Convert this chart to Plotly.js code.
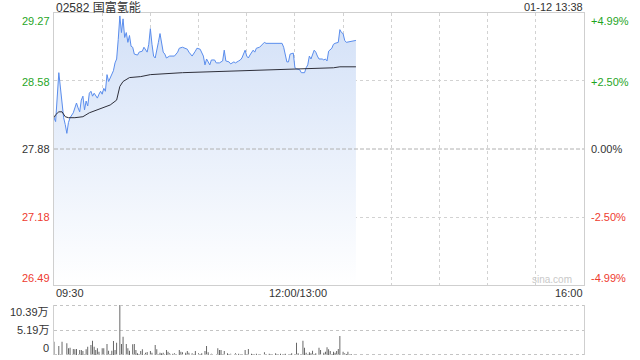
<!DOCTYPE html>
<html><head><meta charset="utf-8">
<script src="https://cdn.plot.ly/plotly-3.0.1.min.js"></script>
<style>html,body{margin:0;padding:0;background:#fff}#c{width:640px;height:360px}</style>
</head><body><div id="c"></div><script>
// ---- data ----
const stockTitle = "02582 国富氢能";
const stampText = "01-12 13:38";
const prevClose = 27.88;
const priceTicks = [29.27, 28.58, 27.88, 27.18, 26.49];
const pctTicks = ["+4.99%", "+2.50%", "0.00%", "-2.50%", "-4.99%"];
const timeLabels = ["09:30", "12:00/13:00", "16:00"];
const volTickLabels = ["10.39万", "5.19万", "0"];
const volMax = 103900;

// minutes of trading since 09:30 (12:00 and 13:00 share minute 150)
const priceMin = [0,1,3,5,6,7,8,9,10,12,14,15,16,17,18,19,20,21,22,23,24,25,27,28,29,30,31,32,33,34,35,37,38,39,40,41,42,43,44,45,46,47,48,49,50,52,53,55,56,57,58,59,60,61,62,63,64,65,66,67,68,69,70,72,73,75,77,78,80,83,84,86,88,89,91,93,94,95,97,98,100,101,103,105,106,107,109,110,112,113,115,116,117,119,120,121,122,124,125,126,128,130,131,132,139,142,143,144,145,146,147,149,150,151,153,154,156,157,158,159,160,162,163,164,165,167,168,169,170,171,173,174,175,177,178,179,180,181,182,188];
const priceVal = [28.20,28.16,28.66,28.33,28.20,28.13,28.04,28.15,28.20,28.25,28.35,28.30,28.26,28.38,28.42,28.28,28.37,28.32,28.45,28.47,28.42,28.45,28.40,28.44,28.47,28.44,28.50,28.47,28.64,28.57,28.61,28.68,28.76,28.80,29.00,29.24,29.07,29.21,29.02,29.07,28.97,29.04,28.93,28.92,28.85,28.84,28.87,28.88,28.92,28.90,28.87,28.95,29.11,28.95,28.83,28.81,28.88,28.97,29.06,28.94,28.87,28.85,28.81,28.83,28.83,28.83,28.87,28.91,28.92,28.90,28.87,28.83,28.88,28.91,28.90,28.83,28.74,28.80,28.74,28.79,28.79,28.76,28.76,28.78,28.89,28.78,28.77,28.75,28.77,28.76,28.78,28.79,28.81,28.89,28.83,28.81,28.84,28.89,28.87,28.91,28.92,28.95,28.97,28.96,28.96,28.96,28.92,28.83,28.77,28.77,28.85,28.86,28.71,28.70,28.69,28.66,28.66,28.71,28.74,28.83,28.80,28.89,28.87,28.83,28.80,28.80,28.79,28.80,28.78,28.88,28.91,28.95,28.96,28.97,29.10,29.07,29.06,28.99,28.97,28.99];

const avgMin = [0,1,3,5,7,9,13,18,22,27,31,35,39,40,41,43,47,54,60,80,97,112,132,153,174,178,188];
const avgVal = [28.20,28.23,28.26,28.26,28.21,28.20,28.20,28.21,28.25,28.28,28.30,28.33,28.38,28.45,28.52,28.57,28.61,28.62,28.64,28.66,28.67,28.68,28.69,28.70,28.71,28.72,28.72];

const volMin = [0,3,5,8,9,10,12,13,14,16,17,18,20,21,23,24,25,26,27,28,30,31,33,34,36,37,38,39,41,42,43,45,46,47,49,50,51,52,54,55,57,58,60,61,63,64,66,67,68,70,71,72,74,75,78,79,80,82,83,84,86,88,90,92,94,95,96,98,102,103,104,106,108,110,113,115,119,121,123,126,131,134,138,141,144,148,151,152,155,156,157,159,160,161,163,165,166,168,169,170,171,172,174,175,176,177,178,180,181,182,183,185,187];
const volVal = [27700,18700,27700,24200,13900,15200,12500,11800,12500,10400,10400,8300,11800,17300,20800,29800,17300,10400,13900,6900,13900,13900,22900,9000,9000,29100,10400,25600,103900,22900,38100,22900,13900,9000,22200,22900,10400,3500,8300,11800,4900,6200,8300,4900,20800,11800,4900,3500,4900,10400,6900,3500,2800,3500,10400,6900,5500,4900,8300,4900,3500,8300,3500,3500,8300,18700,5500,2500,13900,10400,10400,8300,3500,2800,3500,2800,10400,12500,2800,2800,5500,2800,3500,2800,2800,3500,25600,3500,29800,15200,4900,5500,3500,8700,3500,15200,10400,4900,6900,16000,11800,8300,6900,4900,8300,12500,39500,6900,3500,2100,6900,2100,2100];

// ---- layout helpers ----
const W = 640, H = 360;
const px = x => x / W, py = y => 1 - y / H;
const FONT = 'Arial, "Liberation Sans", "Noto Sans CJK SC", sans-serif';
const GREEN = '#1fa51f', RED = '#ee3b2f', DARK = '#333333';
const xDom = [px(54), px(584)];

const traces = [
  {x: priceMin, y: priceVal, type: 'scatter', mode: 'lines', xaxis: 'x', yaxis: 'y',
   line: {color: '#5a8ded', width: 1}, fill: 'tozeroy',
   fillgradient: {type: 'vertical', start: 26.49, stop: 29.27,
     colorscale: [[0, 'rgb(255,255,255)'], [1, 'rgb(210,224,247)']]},
   hoverinfo: 'skip'},
  {x: avgMin, y: avgVal, type: 'scatter', mode: 'lines', xaxis: 'x', yaxis: 'y',
   line: {color: '#2e2f3a', width: 1}, hoverinfo: 'skip'},
  {x: volMin, y: volVal, type: 'bar', xaxis: 'x2', yaxis: 'y2', width: 0.55,
   marker: {color: '#555555', line: {width: 0}}, hoverinfo: 'skip'}
];

const ann = [];
const yPix = [20.7, 81.7, 149, 217, 278];
const cols = [GREEN, GREEN, DARK, RED, RED];
priceTicks.forEach((v, i) => {
  ann.push({text: v.toFixed(2), x: px(52), y: py(yPix[i]), xanchor: 'right', yanchor: 'middle', font: {color: cols[i]}});
  ann.push({text: pctTicks[i], x: px(589), y: py(yPix[i]), xanchor: 'left', yanchor: 'middle', font: {color: cols[i]}});
});
ann.push({text: timeLabels[0], x: px(54), y: py(293), xanchor: 'left', yanchor: 'middle'});
ann.push({text: timeLabels[1], x: px(298), y: py(293), xanchor: 'center', yanchor: 'middle'});
ann.push({text: timeLabels[2], x: px(585), y: py(293), xanchor: 'right', yanchor: 'middle'});
[312, 330, 348].forEach((y, i) => ann.push({text: volTickLabels[i], x: px(51), y: py(y), xanchor: 'right', yanchor: 'middle'}));
ann.push({text: stockTitle, x: px(54), y: py(7), xanchor: 'left', yanchor: 'middle', font: {size: 12, color: DARK}});
ann.push({text: stampText, x: px(585), y: py(7), xanchor: 'right', yanchor: 'middle'});
ann.push({text: 'sina.com', x: px(574), y: py(279), xanchor: 'right', yanchor: 'middle', font: {size: 10, color: '#c9c9c9'}});
ann.forEach(a => { a.xref = 'paper'; a.yref = 'paper'; a.showarrow = false;
  a.font = Object.assign({family: FONT, size: 11, color: DARK}, a.font || {}); });

const layout = {
  width: W, height: H, margin: {l: 0, r: 0, t: 0, b: 0}, showlegend: false,
  paper_bgcolor: '#ffffff', plot_bgcolor: 'rgba(0,0,0,0)', font: {family: FONT},
  xaxis: {domain: xDom, range: [0, 330], tick0: 0, dtick: 30, showgrid: true, gridcolor: '#d2d2d2', griddash: 'dot', gridwidth: 1,
          showline: true, mirror: true, linecolor: '#cfcfcf', linewidth: 1, showticklabels: false, ticks: '', zeroline: false, anchor: 'y', fixedrange: true},
  yaxis: {domain: [py(285), py(13)], range: [26.49, 29.27], tickvals: [27.18, 28.58], showgrid: true, gridcolor: '#d2d2d2', griddash: 'dot',
          showline: true, mirror: true, linecolor: '#cfcfcf', linewidth: 1, showticklabels: false, ticks: '', zeroline: false, anchor: 'x', fixedrange: true},
  xaxis2: {domain: xDom, range: [0, 330], showgrid: false, showline: false, showticklabels: false, ticks: '', zeroline: false, anchor: 'y2', fixedrange: true},
  yaxis2: {domain: [py(355), py(305)], range: [0, volMax], tickvals: [volMax / 2], showgrid: true, gridcolor: '#c4c4c4', griddash: 'dot',
           showline: true, mirror: true, linecolor: '#cfcfcf', linewidth: 1, showticklabels: false, ticks: '', zeroline: false, anchor: 'x2', fixedrange: true},
  shapes: [
    {type: 'line', xref: 'paper', yref: 'y', x0: xDom[0], x1: xDom[1], y0: prevClose, y1: prevClose, line: {color: '#b0b0b0', width: 1, dash: '4px,2px'}},
    {type: 'line', xref: 'paper', yref: 'paper', x0: xDom[0], x1: xDom[1], y0: py(305.5), y1: py(305.5), line: {color: '#c4c4c4', width: 1, dash: 'dot'}},
    {type: 'line', xref: 'paper', yref: 'paper', x0: xDom[0], x1: xDom[1], y0: py(354.5), y1: py(354.5), line: {color: '#c4c4c4', width: 1, dash: 'dot'}}
  ],
  annotations: ann
};
Plotly.newPlot('c', traces, layout, {staticPlot: true, displayModeBar: false});
</script></body></html>
